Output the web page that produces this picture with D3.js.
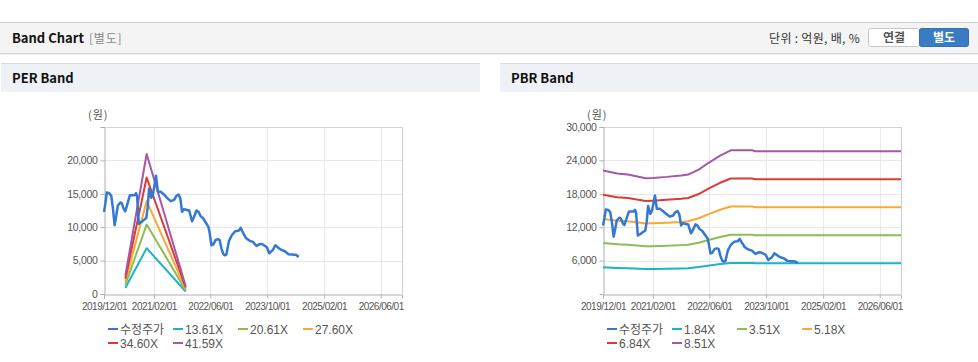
<!DOCTYPE html>
<html>
<head>
<meta charset="utf-8">
<script src="https://cdn.jsdelivr.net/npm/d3@7"></script>
<style>
  body { margin: 0; background: #fff; }
  svg { display: block; font-family: "Noto Sans CJK KR", "Noto Sans", sans-serif; }
</style>
</head>
<body>
<svg id="page" width="978" height="362"></svg>
<script>
// ---- data ----
var priceDates = ["2019/12/01","2019/12/13","2019/12/25","2020/01/15","2020/02/01","2020/02/16","2020/03/01","2020/03/16","2020/03/28",
  "2020/04/19","2020/05/01","2020/05/19","2020/06/01","2020/06/19","2020/07/10","2020/08/01","2020/08/19","2020/09/01","2020/09/10",
  "2020/09/25","2020/10/25","2020/11/28","2020/12/10","2020/12/22","2021/01/10","2021/01/25","2021/02/19","2021/03/07","2021/04/01",
  "2021/04/28","2021/05/25","2021/06/25","2021/07/25","2021/08/13","2021/09/01","2021/09/16","2021/10/01","2021/10/16","2021/12/01",
  "2021/12/10","2021/12/25","2022/01/13","2022/02/01","2022/02/19","2022/03/07","2022/04/01","2022/04/25","2022/05/16","2022/05/25",
  "2022/06/10","2022/06/25","2022/07/16","2022/08/04","2022/08/19","2022/09/04","2022/09/19","2022/10/01","2022/10/16","2022/11/07",
  "2022/12/01","2023/01/01","2023/02/01","2023/02/16","2023/03/07","2023/04/01","2023/05/01","2023/06/01","2023/07/01","2023/08/01",
  "2023/08/25","2023/09/28","2023/10/19","2023/11/19","2023/12/10","2024/01/07","2024/02/01","2024/03/01","2024/04/01","2024/05/01",
  "2024/06/07","2024/06/28"];
var priceValues = [12300,13600,15200,15100,14700,12800,10300,11800,13200,
  13700,13600,12700,12400,13500,14800,14800,14800,15100,14600,
  10500,10900,11400,13000,15800,14400,15000,17700,15300,15300,
  14900,14400,13900,14100,14700,14900,14300,12300,12700,12500,
  11900,10900,11600,12500,12300,11700,11300,10600,10000,9200,
  7300,7400,8100,8200,8100,6800,6000,5800,5900,7900,
  8800,9400,9500,9900,9200,8400,8000,7800,7200,7500,
  7400,7000,6100,6600,7300,6900,6600,6400,5950,5900,
  5850,5550];

var perBandDates = ["2020/06/01", "2020/12/01", "2021/11/01"];
var perNames = ["13.61X", "20.61X", "27.60X", "34.60X", "41.59X"];
var perBands = [
  [900, 6860, 380],
  [1360, 10390, 580],
  [1820, 13910, 770],
  [2280, 17440, 970],
  [2740, 20960, 1160]
];

var pbrBandDates = ["2019/12/01","2020/04/01","2020/07/01","2020/12/01","2021/02/01","2021/06/01","2021/10/01","2021/12/01",
  "2022/03/01","2022/06/01","2022/09/01","2022/12/01","2023/06/01","2023/07/01","2026/12/01"];
var pbrNames = ["1.84X", "3.51X", "5.18X", "6.84X", "8.51X"];
var pbrBands = [
  [4790, 4680, 4640, 4500, 4510, 4550, 4600, 4640, 4830, 5120, 5380, 5580, 5580, 5540, 5540],
  [9140, 8930, 8850, 8580, 8600, 8680, 8780, 8850, 9220, 9760, 10250, 10650, 10650, 10570, 10570],
  [13490, 13170, 13060, 12660, 12700, 12810, 12950, 13060, 13600, 14400, 15130, 15710, 15710, 15600, 15600],
  [17820, 17390, 17250, 16720, 16770, 16910, 17100, 17250, 17960, 19020, 19980, 20750, 20750, 20600, 20600],
  [22170, 21640, 21460, 20800, 20860, 21040, 21280, 21460, 22350, 23660, 24860, 25810, 25810, 25630, 25630]
];

var xTickLabels = ["2019/12/01", "2021/02/01", "2022/06/01", "2023/10/01", "2025/02/01", "2026/06/01"];
var xDomain = ["2019/12/01", "2026/12/01"];
var perYTicks = [0, 5000, 10000, 15000, 20000];
var perYMax = 25000;
var pbrYTicks = [6000, 12000, 18000, 24000, 30000];
var pbrYMax = 30000;

var priceName = "수정주가";
var bandColors = ["#1db4c8", "#8cbd52", "#f6a935", "#dc3a33", "#a557a8"];
var priceColor = "#3478d4";

// ---- page frame ----
var parseDate = d3.timeParse("%Y/%m/%d");
var svg = d3.select("#page");
var numFont = "'Liberation Sans', Arial, sans-serif";

svg.append("rect").attr("x", 0).attr("y", 22).attr("width", 978).attr("height", 31).attr("fill", "#f4f4f4");
svg.append("line").attr("x1", 0).attr("x2", 978).attr("y1", 22.5).attr("y2", 22.5).attr("stroke", "#cfcfcf");
svg.append("line").attr("x1", 0).attr("x2", 978).attr("y1", 53.5).attr("y2", 53.5).attr("stroke", "#d6d6d6");
svg.append("line").attr("x1", 0).attr("x2", 978).attr("y1", 54.5).attr("y2", 54.5).attr("stroke", "#ececec");

svg.append("text").attr("x", 12).attr("y", 43).attr("font-size", 13).attr("font-weight", "bold")
  .attr("fill", "#111").text("Band Chart");
svg.append("text").attr("x", 89).attr("y", 43).attr("font-size", 12).attr("fill", "#888")
  .attr("letter-spacing", 0.8).text("[별도]");
svg.append("text").attr("x", 860).attr("y", 43).attr("font-size", 12).attr("text-anchor", "end")
  .attr("fill", "#333").attr("letter-spacing", 0.3).text("단위 : 억원, 배, %");

svg.append("rect").attr("x", 868.5).attr("y", 28.5).attr("width", 51).attr("height", 18).attr("rx", 2)
  .attr("fill", "#fff").attr("stroke", "#c8c8c8");
svg.append("text").attr("x", 894).attr("y", 42).attr("font-size", 12).attr("font-weight", "bold")
  .attr("text-anchor", "middle").attr("fill", "#555").text("연결");
svg.append("rect").attr("x", 919.5).attr("y", 28.5).attr("width", 49).attr("height", 18).attr("rx", 2)
  .attr("fill", "#3a7cc2").attr("stroke", "#3170b3");
svg.append("text").attr("x", 944).attr("y", 42).attr("font-size", 12).attr("font-weight", "bold")
  .attr("text-anchor", "middle").attr("fill", "#fff").text("별도");

function panelHeader(x, w, title, tx) {
  svg.append("rect").attr("x", x).attr("y", 63).attr("width", w).attr("height", 29).attr("fill", "#eef2f7");
  svg.append("line").attr("x1", x).attr("x2", x + w).attr("y1", 63.5).attr("y2", 63.5).attr("stroke", "#d7dce3");
  svg.append("text").attr("x", tx).attr("y", 83).attr("font-size", 13).attr("font-weight", "bold")
    .attr("fill", "#111").text(title);
}
panelHeader(1, 479, "PER Band", 12);
panelHeader(500, 478, "PBR Band", 511);

// ---- one band chart ----
function drawChart(cfg) {
  var x = d3.scaleTime().domain(xDomain.map(parseDate)).range([cfg.left, cfg.right]);
  var y = d3.scaleLinear().domain([0, cfg.yMax]).range([cfg.bottom, cfg.top]);
  var g = svg.append("g");

  // grid
  g.selectAll(".vgrid").data(xTickLabels.slice(1)).enter().append("line")
    .attr("x1", d => Math.round(x(parseDate(d))) + 0.5).attr("x2", d => Math.round(x(parseDate(d))) + 0.5)
    .attr("y1", cfg.top).attr("y2", cfg.bottom).attr("stroke", "#e8e8e8");
  g.selectAll(".hgrid").data(cfg.yTicks.filter(d => d > 0)).enter().append("line")
    .attr("x1", cfg.left).attr("x2", cfg.right)
    .attr("y1", d => Math.round(y(d)) + 0.5).attr("y2", d => Math.round(y(d)) + 0.5).attr("stroke", "#e8e8e8");

  // frame
  g.append("line").attr("x1", cfg.left).attr("x2", cfg.right).attr("y1", cfg.top + 0.5).attr("y2", cfg.top + 0.5).attr("stroke", "#d4d4d4");
  g.append("line").attr("x1", cfg.right + 0.5).attr("x2", cfg.right + 0.5).attr("y1", cfg.top).attr("y2", cfg.bottom).attr("stroke", "#cfcfcf");

  // axes
  var yAxis = d3.axisLeft(y).tickValues(cfg.yTicks).tickSize(4).tickPadding(3).tickFormat(d3.format(","));
  var ya = g.append("g").attr("transform", "translate(" + (cfg.left + 0.5) + ",0)").call(yAxis);
  var xAxis = d3.axisBottom(x).tickValues(xTickLabels.map(parseDate)).tickSize(4).tickPadding(4)
    .tickFormat(d3.timeFormat("%Y/%m/%d"));
  var xa = g.append("g").attr("transform", "translate(0," + (cfg.bottom + 0.5) + ")").call(xAxis);
  [ya, xa].forEach(function(a) {
    a.select(".domain").attr("stroke", "#b0b0b0");
    a.selectAll(".tick line").attr("stroke", "#b0b0b0");
    a.selectAll("text").attr("fill", "#555").attr("font-size", 10.5).attr("font-family", numFont)
      .attr("letter-spacing", -0.3);
  });
  xa.selectAll("text").attr("font-size", 10).attr("letter-spacing", -0.5);

  svg.append("text").attr("x", cfg.left - 16).attr("y", 119).attr("font-size", 11).attr("fill", "#555")
    .attr("letter-spacing", 1).text("(원)");

  var line = d3.line().x(d => x(d[0])).y(d => y(d[1]));

  // bands
  cfg.bands.forEach(function(vals, i) {
    var pts = cfg.bandDates.map((d, j) => [parseDate(d), vals[j]]);
    g.append("path").datum(pts).attr("d", line).attr("fill", "none")
      .attr("stroke", bandColors[i]).attr("stroke-width", 2).attr("stroke-linejoin", "round");
  });

  // price
  var pricePts = priceDates.map((d, j) => [parseDate(d), priceValues[j]]);
  g.append("path").datum(pricePts).attr("d", line).attr("fill", "none")
    .attr("stroke", priceColor).attr("stroke-width", 2.5).attr("stroke-linejoin", "round");

  // legend
  var items = [{name: priceName, color: priceColor}].concat(cfg.names.map((n, i) => ({name: n, color: bandColors[i]})));
  var offs = [4, 69, 134, 199];
  items.forEach(function(it, i) {
    var lx = cfg.left + offs[i % 4];
    var ly = i < 4 ? 329 : 343;
    svg.append("line").attr("x1", lx).attr("x2", lx + 10).attr("y1", ly).attr("y2", ly)
      .attr("stroke", it.color).attr("stroke-width", 2);
    svg.append("text").attr("x", lx + 12).attr("y", ly + 4.5).attr("font-size", 12).attr("fill", "#555")
      .attr("font-family", i == 0 ? "'Noto Sans CJK KR', sans-serif" : numFont)
      .text(it.name);
  });
}

drawChart({left: 104, right: 402, top: 127, bottom: 294, yMax: perYMax, yTicks: perYTicks,
  bands: perBands, bandDates: perBandDates, names: perNames});
drawChart({left: 603, right: 901, top: 127, bottom: 294, yMax: pbrYMax, yTicks: pbrYTicks,
  bands: pbrBands, bandDates: pbrBandDates, names: pbrNames});
</script>
</body>
</html>
